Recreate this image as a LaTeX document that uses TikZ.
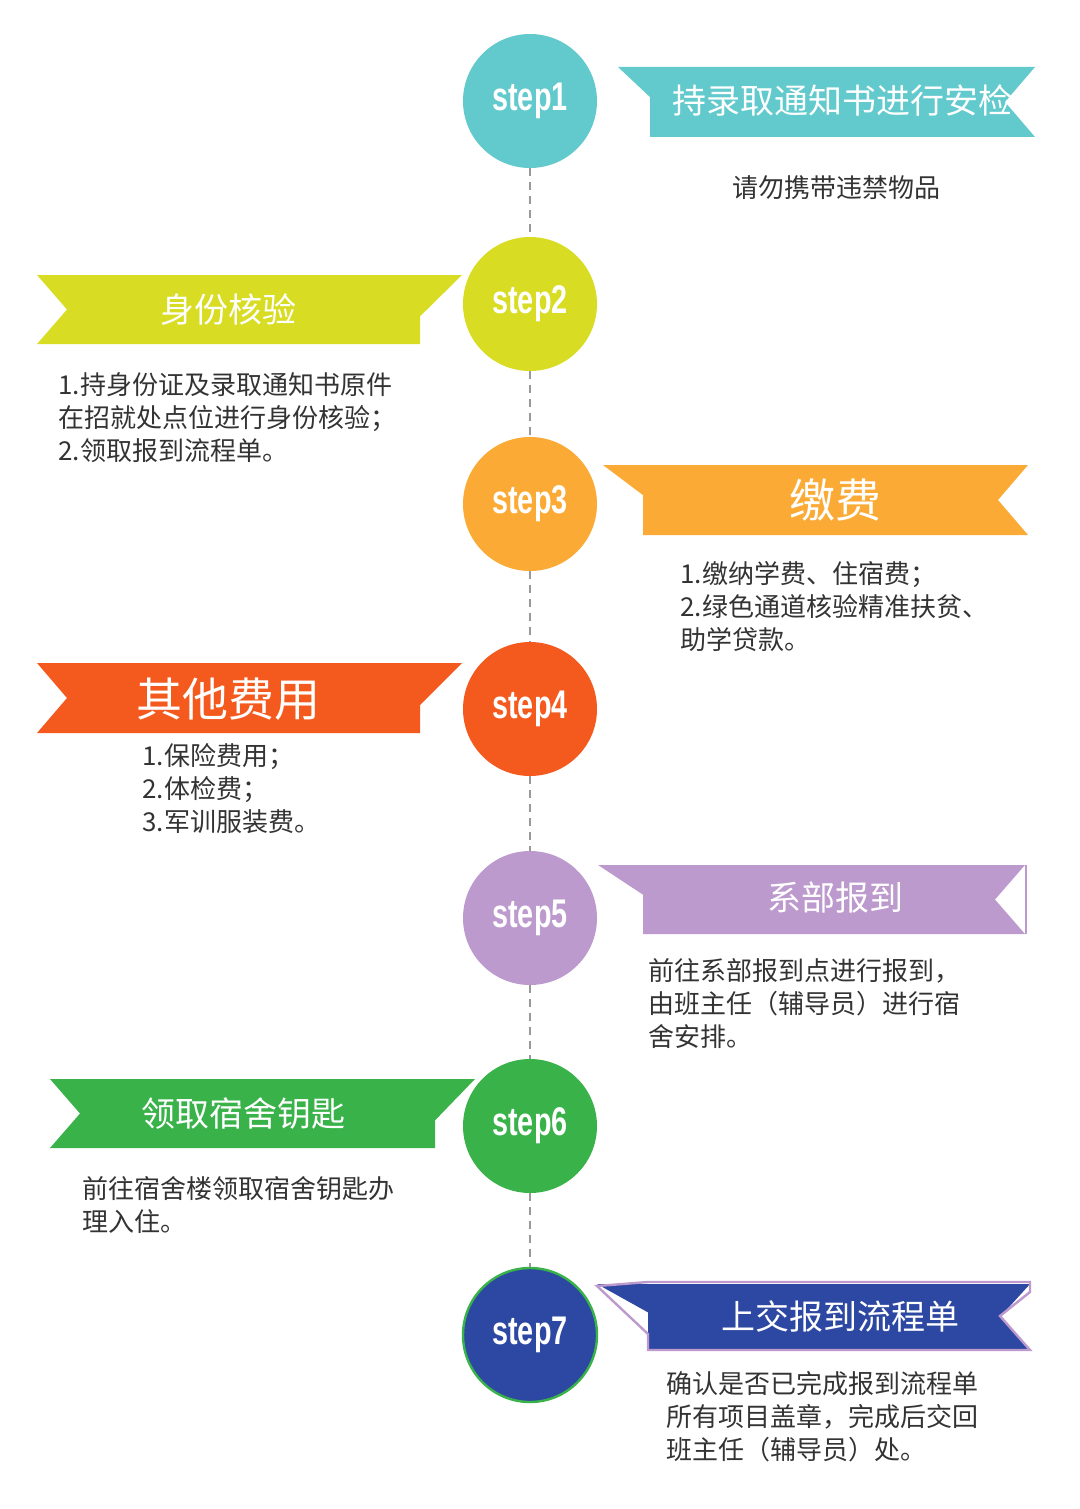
\documentclass[tikz,border=0pt]{standalone}
\usepackage{fontspec}
\setmainfont{Noto Sans CJK SC}
\newfontfamily\stepfont{Liberation Sans}
\usetikzlibrary{positioning}
\definecolor{cA}{HTML}{62C9CC}
\definecolor{cB}{HTML}{D8DC22}
\definecolor{cC}{HTML}{FBAB35}
\definecolor{cD}{HTML}{F4591D}
\definecolor{cE}{HTML}{BD9ACD}
\definecolor{cF}{HTML}{38B249}
\definecolor{cG}{HTML}{2D48A2}
\definecolor{txt}{HTML}{333333}
\tikzset{
  stepcircle/.style={circle,minimum size=134*0.5pt,inner sep=0pt,text=white,font=\stepfont\bfseries\fontsize{20}{20}\selectfont},
  title/.style={text=white,inner sep=0pt,font=\fontsize{17}{17}\selectfont},
  body/.style={text=txt,anchor=north west,inner sep=0pt,align=left,font=\fontsize{13}{16.5}\selectfont},
  link/.style={draw=gray!80,line width=1pt,dash pattern=on 4pt off 3pt}
}
% ribbon pointing right: fold left, notch right
\newcommand{\ribR}[6]{\fill[#6] (#1,#3) -- ({#2},{#3+(#4-#3)*0.43}) -- (#2,#4) -- (#5,#4) -- ({#5-30},{#3/2+#4/2}) -- (#5,#3) -- cycle;}
% ribbon pointing left: fold right, notch left
\newcommand{\ribL}[6]{\fill[#6] (#1,#3) -- ({#2},{#3+(#4-#3)*0.6}) -- (#2,#4) -- (#5,#4) -- ({#5+30},{#3/2+#4/2}) -- (#5,#3) -- cycle;}
\newcommand{\steptxt}[1]{\scalebox{0.72}[1]{#1}}
\begin{document}
\begin{tikzpicture}[x=0.5pt,y=-0.5pt]
\useasboundingbox (0,0) rectangle (1080,1509);

% step circles
\node[stepcircle,fill=cA] (s1) at (530,101) {\steptxt{step1}};
\node[stepcircle,fill=cB] (s2) at (530,304) {\steptxt{step2}};
\node[stepcircle,fill=cC] (s3) at (530,504) {\steptxt{step3}};
\node[stepcircle,fill=cD] (s4) at (530,709) {\steptxt{step4}};
\node[stepcircle,fill=cE] (s5) at (530,918) {\steptxt{step5}};
\node[stepcircle,fill=cF] (s6) at (530,1126) {\steptxt{step6}};
\node[stepcircle,fill=cG,draw=cF,line width=1.2pt] (s7) at (530,1335) {\steptxt{step7}};

% dashed links
\foreach \a/\b in {s1/s2,s2/s3,s3/s4,s4/s5,s5/s6,s6/s7}
  \draw[link] (\a.south) -- (\b.north);

% ribbons
\ribR{618}{650}{67}{137}{1035}{cA}
\ribL{462}{420}{275}{344}{37}{cB}
\ribR{603}{643}{465}{535}{1028}{cC}
\ribL{462}{420}{663}{733}{37}{cD}
\ribR{598}{643}{865}{934}{1025}{cE}
\draw[cE,line width=1pt] (1026,865) -- (1026,934);
\ribL{475}{435}{1079}{1148}{50}{cF}
\ribR{597}{648}{1284}{1350}{1030}{cG}
\draw[cE,line width=1.2pt] (597,1286) -- (648,1282) -- (1030,1282) -- (1030,1292) -- (1000,1316) -- (1030,1350) -- (648,1350) -- (648,1334) -- cycle;

% ribbon titles
\node[title] (t1) at (842,101) {持录取通知书进行安检};
\node[title] (t2) at (228,310) {身份核验};
\node[title,font=\fontsize{23}{23}\selectfont] (t3) at (835,500) {缴费};
\node[title,font=\fontsize{23}{23}\selectfont] (t4) at (228,699) {其他费用};
\node[title] (t5) at (835,898) {系部报到};
\node[title] (t6) at (243,1114) {领取宿舍钥匙};
\node[title] (t7) at (840,1316) {上交报到流程单};

% descriptions
\node[body,anchor=center] (d1) at (836,188) {请勿携带违禁物品};
\node[body] (d2) at (58,372) {1.持身份证及录取通知书原件\\在招就处点位进行身份核验；\\2.领取报到流程单。};
\node[body] (d3) at (680,561) {1.缴纳学费、住宿费；\\2.绿色通道核验精准扶贫、\\助学贷款。};
\node[body] (d4) at (142,743) {1.保险费用；\\2.体检费；\\3.军训服装费。};
\node[body] (d5) at (648,958) {前往系部报到点进行报到，\\由班主任（辅导员）进行宿\\舍安排。};
\node[body] (d6) at (82,1176) {前往宿舍楼领取宿舍钥匙办\\理入住。};
\node[body] (d7) at (666,1371) {确认是否已完成报到流程单\\所有项目盖章，完成后交回\\班主任（辅导员）处。};
\end{tikzpicture}
\end{document}
